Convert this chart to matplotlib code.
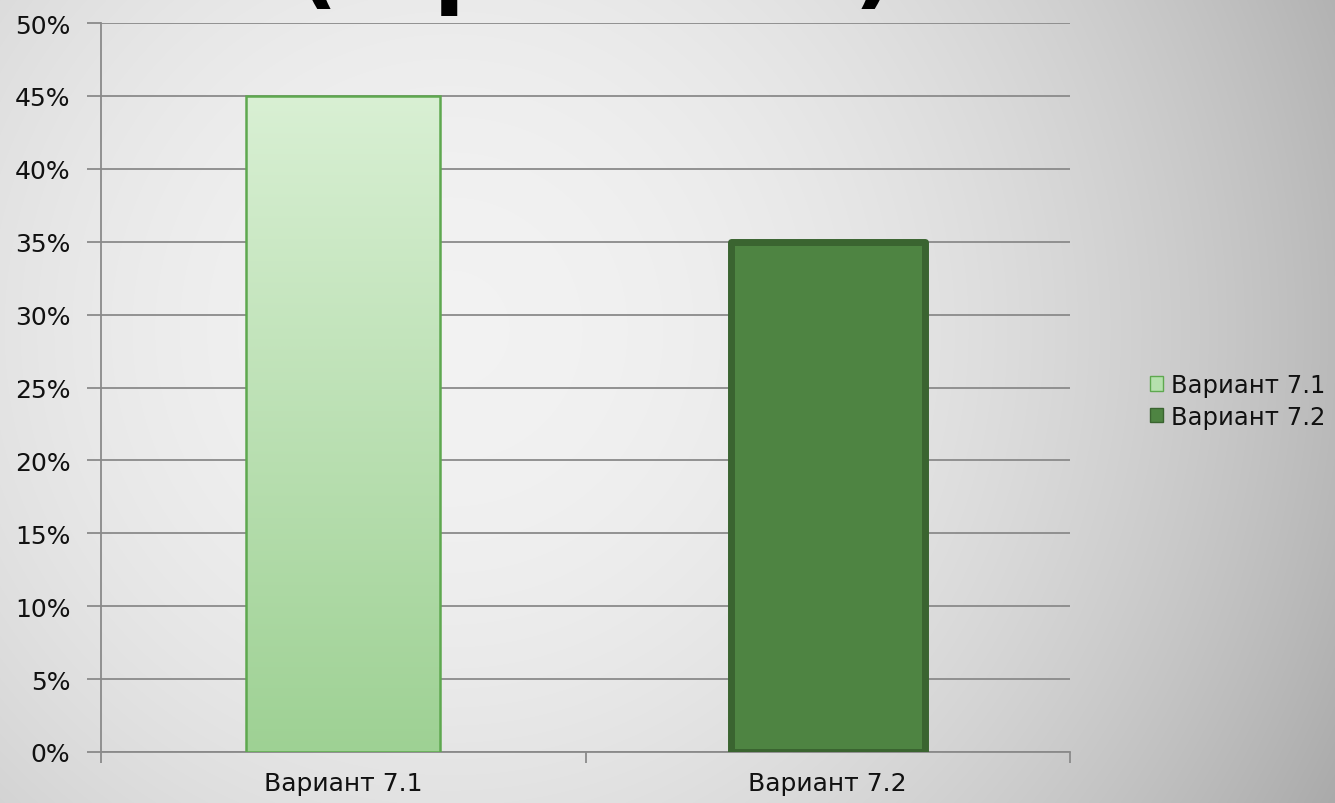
import matplotlib.pyplot as plt
import matplotlib
import numpy as np
from matplotlib.patches import Patch
from matplotlib.ticker import PercentFormatter

matplotlib.rc('font', family='DejaVu Sans', size=18)

categories = ["Вариант 7.1", "Вариант 7.2"]
values = [0.45, 0.35]
y_ticks = [0.0, 0.05, 0.10, 0.15, 0.20, 0.25, 0.30, 0.35, 0.40, 0.45, 0.50]

W, H = 1335, 804
fig = plt.figure(figsize=(W / 100, H / 100), dpi=100)

# slide background: soft radial grey gradient
bg = fig.add_axes([0, 0, 1, 1], zorder=-10)
xx, yy = np.meshgrid(np.arange(W), np.arange(H))
d2 = ((xx - 450) ** 2 + (yy - 330) ** 2) / 800.0 ** 2
shade = np.clip(0.95 - 0.18 * d2, 0, 1)
bg.imshow(np.dstack([shade] * 3), aspect='auto', extent=[0, 1, 0, 1], origin='upper')
bg.axis('off')

# slide title, only its lower edge shows at the top of the picture
fig.text(296 / W, 1.0 + 3 / H, "(1 рейтинг)", fontsize=66, fontweight='semibold',
         color='black', va='baseline', ha='left')

ax = fig.add_axes([101 / W, 51 / H, 969 / W, 729 / H])
ax.patch.set_alpha(0)

x = np.arange(len(categories))
bars = ax.bar(x, values, width=0.4, zorder=3)

# first bar: light green vertical gradient
b1 = bars[0]
b1.set_facecolor('none')
b1.set_edgecolor('#5ea84f')
b1.set_linewidth(1.8)
grad = np.linspace(0, 1, 256).reshape(-1, 1)
top = np.array([0.85, 0.94, 0.83])
bot = np.array([0.62, 0.82, 0.58])
img = top * (1 - grad[..., None]) + bot * grad[..., None]
x0 = b1.get_x()
im = ax.imshow(img, aspect='auto', origin='upper', zorder=2.9,
               extent=[x0, x0 + b1.get_width(), 0, values[0]])
im.set_clip_path(b1)

# second bar: dark green with thick border
b2 = bars[1]
b2.set_facecolor('#4e8442')
b2.set_edgecolor('#3a6430')
b2.set_linewidth(5)
b2.set_joinstyle('round')

ax.set_xlim(-0.5, 1.5)
ax.set_ylim(0, 0.5)
ax.set_yticks(y_ticks)
ax.yaxis.set_major_formatter(PercentFormatter(1.0, decimals=0))
ax.yaxis.grid(True, color='#8a8a8a', linewidth=1.3, zorder=0)
ax.set_axisbelow(True)

ax.set_xticks(x)
ax.set_xticklabels(categories)
ax.set_xticks([-0.5, 0.5, 1.5], minor=True)
ax.tick_params(axis='x', which='major', length=0, pad=14, labelcolor='#111111')
ax.tick_params(axis='x', which='minor', length=8, color='#8a8a8a', width=1.3)
ax.tick_params(axis='y', length=10, color='#8a8a8a', width=1.3, pad=12, labelcolor='#111111')

for s in ['top', 'right']:
    ax.spines[s].set_visible(False)
for s in ['left', 'bottom']:
    ax.spines[s].set_color('#8a8a8a')
    ax.spines[s].set_linewidth(1.3)

handles = [Patch(facecolor='#b5e0ad', edgecolor='#5ea84f', label=categories[0]),
           Patch(facecolor='#4e8442', edgecolor='#3a6430', label=categories[1])]
leg = fig.legend(handles=handles, loc='center left', bbox_to_anchor=(1128 / W, 1 - 402 / H),
                 frameon=False, handlelength=0.55, handleheight=0.55, handletextpad=0.3,
                 labelspacing=0.3, fontsize=17.5)
for t in leg.get_texts():
    t.set_color('#111111')

fig.savefig("out.png", dpi=100)
